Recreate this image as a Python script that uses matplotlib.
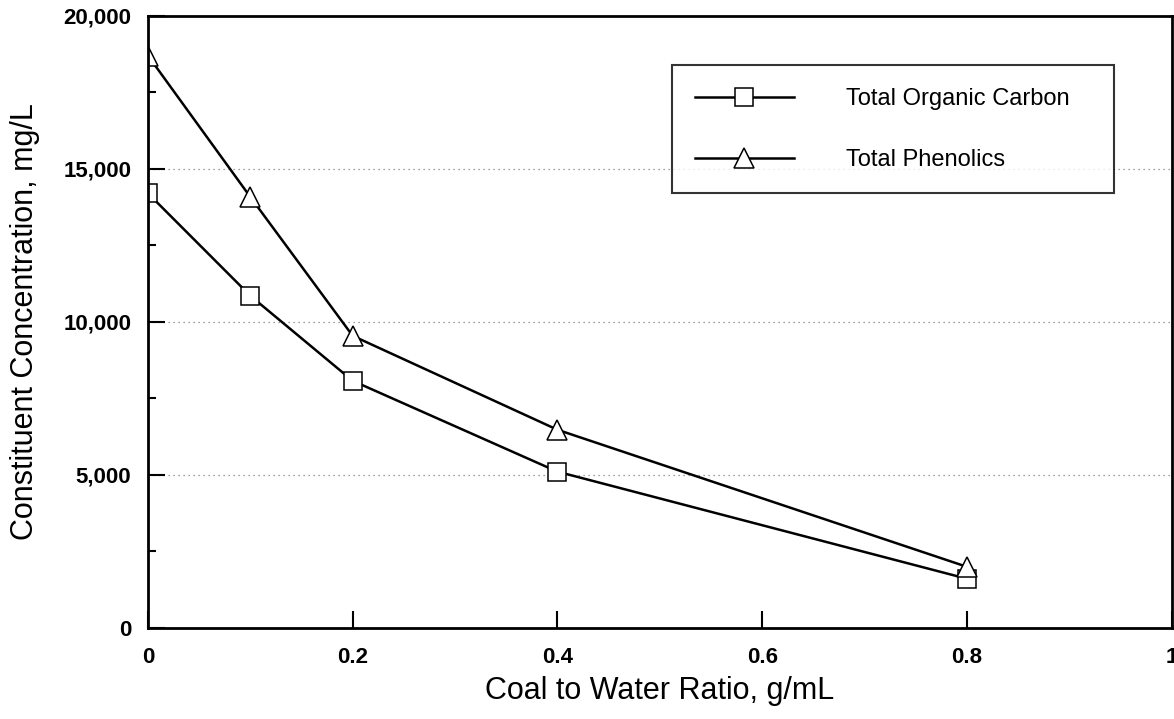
import matplotlib.pyplot as plt
from matplotlib.ticker import MultipleLocator, FuncFormatter

plt.rcParams['font.family'] = ['Liberation Sans', 'DejaVu Sans']

# coal to water ratio, g/mL
ratio = [0, 0.1, 0.2, 0.4, 0.8]
# concentrations, mg/L
toc = [14200, 10850, 8070, 5100, 1600]
phenolics = [18700, 14080, 9540, 6470, 1990]


def xfmt(v, p):
    v = round(v, 1)
    if v == 0:
        return '0'
    if v == 1:
        return '1'
    return f'{v:.1f}'


fig = plt.figure(figsize=(11.74, 7.19), dpi=100)
ax = fig.add_axes([0.126, 0.127, 0.872, 0.851])

ax.plot(ratio, toc, color='black', lw=1.8, marker='s', ms=13,
        mfc='white', mec='black', mew=1.1, label='Total Organic Carbon')
ax.plot(ratio, phenolics, color='black', lw=1.8, marker='^', ms=15,
        mfc='white', mec='black', mew=1.1, label='Total Phenolics')

ax.set_xlim(0, 1)
ax.set_ylim(0, 20000)
ax.xaxis.set_major_locator(MultipleLocator(0.2))
ax.yaxis.set_major_locator(MultipleLocator(5000))
ax.yaxis.set_minor_locator(MultipleLocator(2500))
ax.xaxis.set_major_formatter(FuncFormatter(xfmt))
ax.yaxis.set_major_formatter(FuncFormatter(lambda v, p: f'{int(round(v)):,}'))
ax.tick_params(direction='in', which='both', width=1.5)
ax.tick_params(which='major', length=12)
ax.tick_params(which='minor', length=6)
ax.tick_params(axis='y', pad=12)
ax.tick_params(axis='x', pad=14)
for lab in ax.get_xticklabels() + ax.get_yticklabels():
    lab.set_fontsize(16)
    lab.set_fontweight('bold')

for y in [5000, 10000, 15000]:
    ax.axhline(y, color='gray', lw=0.9, ls=(0, (1, 3)), zorder=0)

for s in ax.spines.values():
    s.set_linewidth(2)

ax.set_xlabel('Coal to Water Ratio, g/mL', fontsize=22, labelpad=6)
ax.set_ylabel('Constituent Concentration, mg/L', fontsize=22, labelpad=17)

leg = ax.legend(loc='upper left', bbox_to_anchor=(0.512, 0.5, 0.432, 0.419),
                mode='expand', fontsize=17,
                frameon=True, fancybox=False, edgecolor='black',
                handlelength=4.2, handletextpad=2.2, borderpad=0.95,
                labelspacing=1.65, borderaxespad=0)
leg.get_frame().set_linewidth(1.5)

plt.savefig('out.png', dpi=100)
